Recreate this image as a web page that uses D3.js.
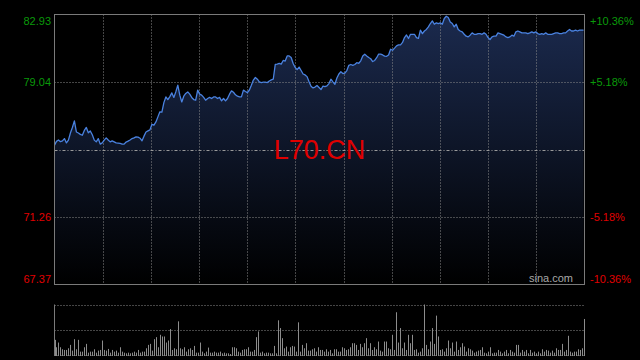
<!DOCTYPE html>
<html>
<head>
<meta charset="utf-8">
<script src="https://cdn.jsdelivr.net/npm/d3@7"></script>
<style>
  html, body { margin: 0; padding: 0; background: #000; }
  svg { display: block; }
</style>
</head>
<body>
<svg id="chart" width="640" height="360"></svg>
<script>
// Intraday price (evenly spaced samples)
const prices = [
  75.40, 75.62, 75.70, 75.60, 75.65, 75.78, 75.53, 75.69, 76.10, 76.42,
  76.80, 76.16, 76.10, 76.02, 75.97, 76.25, 76.42, 76.11, 76.22, 76.00,
  75.69, 75.59, 75.78, 75.46, 75.53, 75.69, 75.82, 75.70, 75.59, 75.65,
  75.59, 75.53, 75.52, 75.50, 75.46, 75.46, 75.58, 75.63, 75.70, 75.78,
  75.82, 75.88, 75.86, 75.80, 75.65, 75.92, 76.16, 76.22, 76.28, 76.60,
  76.55, 76.74, 77.03, 77.32, 77.30, 77.85, 78.18, 78.03, 78.20, 78.41,
  78.15, 78.47, 78.86, 78.28, 77.89, 78.22, 78.38, 78.47, 78.34, 78.15,
  78.03, 77.99, 78.57, 78.34, 78.28, 78.15, 77.99, 78.09, 78.15, 78.09,
  78.18, 78.18, 78.09, 78.15, 77.95, 78.09, 77.95, 78.09, 78.34, 78.53,
  78.45, 78.30, 78.22, 78.18, 78.18, 78.57, 78.49, 78.43, 78.58, 78.85,
  79.15, 79.30, 79.20, 79.05, 79.01, 79.03, 79.03, 79.01, 79.10, 79.16,
  79.20, 80.05, 80.07, 80.11, 80.07, 80.28, 80.25, 80.54, 80.54, 80.45,
  80.11, 79.88, 79.75, 79.90, 79.70, 79.50, 79.45, 79.35, 79.05, 78.80,
  78.70, 78.75, 78.84, 78.72, 78.60, 78.80, 78.77, 78.82, 78.95, 79.20,
  79.05, 78.91, 79.27, 79.50, 79.63, 79.53, 79.55, 79.70, 80.00, 80.05,
  80.00, 80.05, 80.15, 80.12, 80.26, 80.54, 80.64, 80.54, 80.45, 80.38,
  80.22, 80.28, 80.44, 80.65, 80.65, 80.60, 80.53, 80.52, 80.60, 80.93,
  80.87, 80.99, 81.12, 81.18, 81.18, 81.32, 81.60, 81.75,
  81.55, 81.79, 81.79, 81.79, 81.60, 81.55, 82.03, 81.83, 81.98, 82.07,
  82.22, 82.41, 82.56, 82.37, 82.45, 82.41, 82.45, 82.37, 82.70, 82.83,
  82.76, 82.50, 82.41, 82.22, 82.37, 82.07, 81.98, 81.93, 81.79, 81.68,
  81.64, 81.74, 81.87, 81.79, 81.79, 81.83, 81.83, 81.79, 81.87, 81.79,
  81.60, 81.49, 81.64, 81.68, 81.68, 81.87, 81.83, 81.79, 81.74, 81.64,
  81.60, 81.64, 81.74, 81.68, 81.93, 81.98, 81.93, 81.87, 81.87, 81.87,
  81.83, 81.87, 81.93, 81.87, 81.93, 81.83, 81.79, 81.83, 81.79, 81.87,
  81.79, 81.79, 81.79, 81.83, 81.87, 81.87, 81.83, 81.83, 81.87, 81.87,
  81.98, 82.07, 81.98, 81.98, 82.03, 81.98, 82.03, 82.03, 82.03
];

// Volume per bar (relative units)
const volumes = [
  45, 23, 37, 23, 17, 15, 15, 20, 30, 13, 47, 17, 45, 10, 10, 23, 33, 7, 10, 10,
  17, 7, 13, 15, 43, 15, 13, 18, 7, 15, 10, 13, 7, 23, 10, 7, 5, 7, 5, 7,
  10, 7, 15, 7, 10, 10, 20, 30, 33, 13, 47, 53, 23, 60, 55, 55, 37, 43, 77, 15,
  20, 17, 100, 20, 17, 23, 10, 17, 20, 15, 27, 7, 7, 37, 10, 5, 10, 22, 7, 7,
  10, 7, 7, 10,
  5, 7, 5, 5, 3, 23, 23, 20, 10, 7, 15, 17, 17, 23, 10, 10, 15, 53, 70, 7,
  10, 5, 7, 7, 5, 5, 27, 5, 103, 80, 50, 20, 25, 10, 23, 27, 25, 10, 97, 10,
  30, 20, 35, 13, 13, 17, 20, 10, 23, 15, 15, 10, 17, 10, 15, 5, 17, 17, 10, 10,
  23, 20, 15, 17, 23, 35, 35, 30, 15, 33, 23, 35, 50, 20, 35, 15, 23, 17, 40, 13,
  10, 40, 40, 20, 17, 60, 15, 127, 37, 80, 20, 37, 15, 60, 35, 60, 15, 17, 7, 10,
  20, 150, 30, 17, 40, 80, 33, 117, 55, 15, 17, 10, 20, 43, 20, 37, 10, 40, 15, 23,
  35, 25, 10, 20, 17, 13, 7, 10, 13, 15, 23, 7, 5, 10, 23, 5, 7, 7, 15, 10,
  5, 10, 15, 5, 15, 10, 7, 30, 30, 7, 15, 10, 15, 5, 15, 7, 10, 5, 10, 5,
  17, 10, 15, 13, 7, 13, 7, 20, 15, 15, 33, 10, 15, 57, 10, 7, 10, 10, 17, 15,
  20, 107
];

const priceTicks = [82.93, 79.04, 71.26, 67.37];
const pctTicks = ['+10.36%', '+5.18%', '-5.18%', '-10.36%'];
const prevClose = 75.15;
const symbol = 'L70.CN';
const timeSlots = 11;

const svg = d3.select('#chart');
const plotLeft = 54.5, plotRight = 584.5, plotTop = 14.5, plotBottom = 284.5;
const vTop = 304.5, vBottom = 355;

const x = d3.scaleLinear().domain([0, prices.length - 1]).range([plotLeft, plotRight - 1]);
const y = d3.scaleLinear().domain([67.37, 82.93]).range([plotBottom, plotTop]);
const xv = d3.scaleLinear().domain([0, volumes.length - 1]).range([plotLeft + 1, plotRight]);
const yv = d3.scaleLinear().domain([0, d3.max(volumes)]).range([vBottom, vTop]);
const xGrid = d3.scaleLinear().domain([0, timeSlots]).range([plotLeft, plotRight]);

// Area gradient
const grad = svg.append('defs').append('linearGradient')
  .attr('id', 'area-grad')
  .attr('gradientUnits', 'userSpaceOnUse')
  .attr('x1', 0).attr('y1', plotTop).attr('x2', 0).attr('y2', plotBottom);
grad.append('stop').attr('offset', '0%').attr('stop-color', '#1b2a4e');
grad.append('stop').attr('offset', '100%').attr('stop-color', '#000000');

const area = d3.area()
  .x((d, i) => x(i))
  .y0(plotBottom)
  .y1(d => y(d));

svg.append('path')
  .datum(prices)
  .attr('d', area)
  .attr('fill', 'url(#area-grad)');

// Grid
const grid = svg.append('g');
grid.selectAll('.vgrid')
  .data(d3.range(1, timeSlots))
  .join('line')
  .attr('x1', d => Math.round(xGrid(d)) + 0.5)
  .attr('x2', d => Math.round(xGrid(d)) + 0.5)
  .attr('y1', plotTop).attr('y2', plotBottom)
  .attr('stroke', '#8a8a8a')
  .attr('stroke-dasharray', '1,2');

grid.selectAll('.hgrid')
  .data([79.04, 71.26])
  .join('line')
  .attr('x1', plotLeft).attr('x2', plotRight)
  .attr('y1', d => Math.round(y(d)) + 0.5)
  .attr('y2', d => Math.round(y(d)) + 0.5)
  .attr('stroke', '#8a8a8a')
  .attr('stroke-dasharray', '1,2');

grid.append('line')
  .attr('x1', plotLeft).attr('x2', plotRight)
  .attr('y1', Math.round(y(prevClose)) + 0.5)
  .attr('y2', Math.round(y(prevClose)) + 0.5)
  .attr('stroke', '#9a9a9a')
  .attr('stroke-dasharray', '3,2,1,2');

// Price line
svg.append('path')
  .datum(prices)
  .attr('d', d3.line().x((d, i) => x(i)).y(d => y(d)))
  .attr('fill', 'none')
  .attr('stroke', '#4a82e0')
  .attr('stroke-width', 1.3)
  .attr('stroke-linejoin', 'round');

// Frame
svg.append('rect')
  .attr('x', plotLeft).attr('y', plotTop)
  .attr('width', plotRight - plotLeft).attr('height', plotBottom - plotTop)
  .attr('fill', 'none')
  .attr('stroke', '#7a7a7a');

// Watermark
svg.append('text')
  .attr('x', (plotLeft + plotRight) / 2)
  .attr('y', y(prevClose) + 9)
  .attr('text-anchor', 'middle')
  .attr('font-family', 'Liberation Sans, Arial, sans-serif')
  .attr('font-size', 27)
  .attr('fill', '#e00000')
  .text(symbol);

svg.append('text')
  .attr('x', 573).attr('y', 282)
  .attr('text-anchor', 'end')
  .attr('font-family', 'Liberation Sans, Arial, sans-serif')
  .attr('font-size', 11)
  .attr('fill', '#a8a8a8')
  .text('sina.com');

// Axis labels
const labelY = d => {
  const p = y(d);
  if (p < plotTop + 5) return p + 10;
  if (p > plotBottom - 5) return p - 2;
  return p + 4;
};
const labelColor = d => d >= prevClose ? '#0a9a0a' : '#e00000';

svg.append('g').selectAll('text')
  .data(priceTicks)
  .join('text')
  .attr('x', 51)
  .attr('y', labelY)
  .attr('text-anchor', 'end')
  .attr('font-family', 'Liberation Sans, Arial, sans-serif')
  .attr('font-size', 11)
  .attr('fill', labelColor)
  .text(d => d.toFixed(2));

svg.append('g').selectAll('text')
  .data(priceTicks)
  .join('text')
  .attr('x', 590)
  .attr('y', labelY)
  .attr('text-anchor', 'start')
  .attr('font-family', 'Liberation Sans, Arial, sans-serif')
  .attr('font-size', 11)
  .attr('fill', labelColor)
  .text((d, i) => pctTicks[i]);

// Volume panel
const vol = svg.append('g');
vol.selectAll('.vline')
  .data([vTop, (vTop + vBottom) / 2, vBottom])
  .join('line')
  .attr('x1', plotLeft).attr('x2', plotRight)
  .attr('y1', d => Math.round(d) + 0.5)
  .attr('y2', d => Math.round(d) + 0.5)
  .attr('stroke', '#8a8a8a')
  .attr('stroke-dasharray', '1,2');

vol.append('line')
  .attr('x1', plotLeft).attr('x2', plotLeft)
  .attr('y1', vTop).attr('y2', vBottom + 1)
  .attr('stroke', '#7a7a7a');

vol.selectAll('.bar')
  .data(volumes)
  .join('line')
  .attr('x1', (d, i) => Math.round(xv(i)) - 0.5)
  .attr('x2', (d, i) => Math.round(xv(i)) - 0.5)
  .attr('y1', vBottom + 1)
  .attr('y2', d => yv(d))
  .attr('stroke', '#8c8c8c')
  .attr('stroke-width', 1);
</script>
</body>
</html>
